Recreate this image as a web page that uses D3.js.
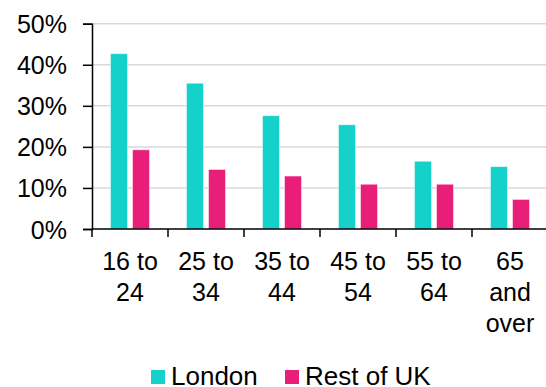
<!DOCTYPE html>
<html>
<head>
<meta charset="utf-8">
<script src="https://cdn.jsdelivr.net/npm/d3@7"></script>
<style>
  body { margin: 0; background: #fff; }
  svg text { font-family: "Liberation Sans", Arial, sans-serif; fill: #000; }
</style>
</head>
<body>
<div class="chart-box"></div>
<script>
// values (shares of each age band)
var ageBands = ['16 to 24', '25 to 34', '35 to 44', '45 to 54', '55 to 64', '65 and over']
var bandLines = [['16 to', '24'], ['25 to', '34'], ['35 to', '44'], ['45 to', '54'], ['55 to', '64'], ['65', 'and', 'over']]
var seriesNames = ['London', 'Rest of UK']
var londonValues = [0.427, 0.355, 0.276, 0.254, 0.165, 0.152]
var restValues = [0.193, 0.145, 0.129, 0.109, 0.109, 0.072]
var yTicks = [0, 0.1, 0.2, 0.3, 0.4, 0.5]
var seriesColors = ['#14d1c9', '#e91e78']

var width = 546
var height = 387

var svg = d3.select('div.chart-box')
    .append('svg')
    .attr('width', width)
    .attr('height', height)

// plot area (don't call these top/left... window.top is read-only)
var plotLeft = 92, plotRight = 548, plotTop = 23.7, plotBottom = 229

var x = d3.scaleBand()
    .domain(ageBands)
    .range([plotLeft, plotRight])
    .padding(0)

var xSub = d3.scaleBand()
    .domain(seriesNames)
    .range([0, x.bandwidth()])
    .paddingInner(0.227)
    .paddingOuter(0.84)

var y = d3.scaleLinear()
    .domain([0, 0.5])
    .range([plotBottom, plotTop])

// gridlines
svg.append('g')
    .selectAll('line')
    .data(yTicks.slice(1))
    .enter()
    .append('line')
    .attr('x1', plotLeft)
    .attr('x2', width)
    .attr('y1', function (d) { return y(d) })
    .attr('y2', function (d) { return y(d) })
    .style('stroke', '#d9d9d9')
    .style('stroke-width', 1.5)

// bars, one group per age band
var rows = ageBands.map(function (a, i) {
    return { band: a, values: [londonValues[i], restValues[i]] }
})

var groups = svg.append('g')
    .selectAll('g')
    .data(rows)
    .enter()
    .append('g')
    .attr('transform', function (d) { return 'translate(' + x(d.band) + ',0)' })

groups.selectAll('rect')
    .data(function (d) { return d.values.map(function (v, j) { return { name: seriesNames[j], value: v, j: j } }) })
    .enter()
    .append('rect')
    .attr('x', function (d) { return xSub(d.name) })
    .attr('width', xSub.bandwidth())
    .attr('y', function (d) { return y(d.value) })
    .attr('height', function (d) { return plotBottom - y(d.value) })
    .style('fill', function (d) { return seriesColors[d.j] })
    .style('stroke', 'rgba(255,255,255,0.5)')
    .style('stroke-width', 1)

// y axis
var yAxis = svg.append('g')
    .attr('transform', 'translate(' + plotLeft + ',0)')
    .call(d3.axisLeft(y).tickValues(yTicks).tickFormat(d3.format('.0%')).tickSize(9).tickPadding(16))

yAxis.select('.domain').attr('stroke', '#000').attr('stroke-width', 1.5)
yAxis.selectAll('.tick line').attr('stroke', '#000').attr('stroke-width', 1.5)
yAxis.selectAll('.tick text')
    .style('font-size', '25px')
    .attr('dy', '0.36em')
yAxis.attr('font-family', null).attr('font-size', null)

// x axis: ticks on the band edges
var edges = ageBands.map(function (a) { return x(a) })

svg.append('line')
    .attr('x1', plotLeft)
    .attr('x2', width)
    .attr('y1', plotBottom)
    .attr('y2', plotBottom)
    .style('stroke', '#000')
    .style('stroke-width', 1.5)

svg.append('g')
    .selectAll('line')
    .data(edges)
    .enter()
    .append('line')
    .attr('x1', function (d) { return d })
    .attr('x2', function (d) { return d })
    .attr('y1', plotBottom)
    .attr('y2', plotBottom + 8)
    .style('stroke', '#000')
    .style('stroke-width', 1.5)

var labels = svg.append('g')
    .selectAll('text')
    .data(ageBands)
    .enter()
    .append('text')
    .attr('text-anchor', 'middle')
    .style('font-size', '25px')
    .attr('y', 270)

labels.selectAll('tspan')
    .data(function (d, i) { return bandLines[i].map(function (t) { return { t: t, band: d } }) })
    .enter()
    .append('tspan')
    .attr('x', function (d) { return x(d.band) + x.bandwidth() / 2 })
    .attr('dy', function (d, k) { return k === 0 ? 0 : 31 })
    .text(function (d) { return d.t })

// legend
var legendX = [151, 285]
var legend = svg.append('g')
    .selectAll('g')
    .data(seriesNames)
    .enter()
    .append('g')
    .attr('transform', function (d, i) { return 'translate(' + legendX[i] + ',370)' })

legend.append('rect')
    .attr('width', 14)
    .attr('height', 14)
    .style('fill', function (d, i) { return seriesColors[i] })

legend.append('text')
    .attr('x', 20)
    .attr('y', 15)
    .style('font-size', '26px')
    .text(function (d) { return d })
</script>
</body>
</html>
